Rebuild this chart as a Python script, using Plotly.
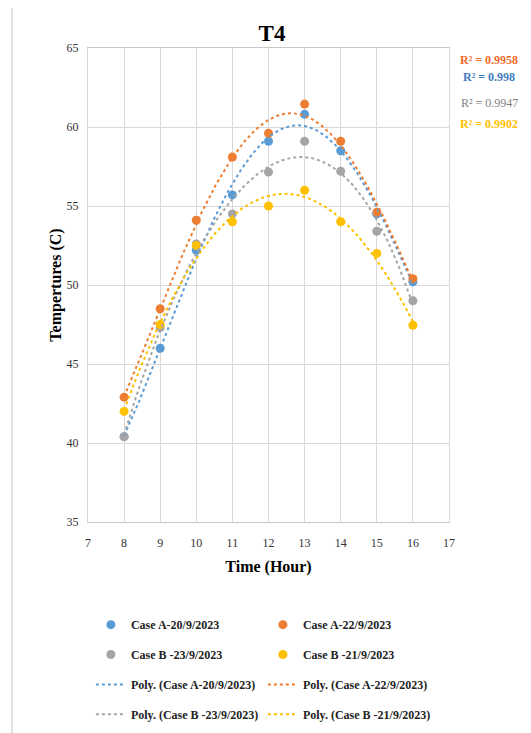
import numpy as np
import plotly.graph_objects as go

hours = [8, 9, 10, 11, 12, 13, 14, 15, 16]
case_a_20 = [40.4, 46.0, 52.2, 55.7, 59.1, 60.8, 58.5, 54.5, 50.2]
case_a_22 = [42.9, 48.5, 54.1, 58.1, 59.6, 61.45, 59.1, 54.6, 50.4]
case_b_23 = [40.4, 47.3, 52.6, 54.5, 57.15, 59.1, 57.2, 53.4, 49.0]
case_b_21 = [42.0, 47.5, 52.5, 54.0, 55.0, 56.0, 54.0, 52.0, 47.45]

series_names = ["Case A-20/9/2023", "Case A-22/9/2023", "Case B -23/9/2023", "Case B -21/9/2023"]
series_values = [case_a_20, case_a_22, case_b_23, case_b_21]
series_colors = ["#5B9BD5", "#ED7D31", "#A5A5A5", "#FFC000"]
r2_values = [0.998, 0.9958, 0.9947, 0.9902]
r2_labels = ["R² = 0.998", "R² = 0.9958", "R² = 0.9947", "R² = 0.9902"]
r2_colors = ["#3F7CC2", "#EE6A2B", "#7F7F7F", "#FFC000"]
r2_weights = ["bold", "bold", "normal", "bold"]
r2_ypos = [0.939, 0.975, 0.884, 0.840]

x_ticks = list(range(7, 18))
y_ticks = [35, 40, 45, 50, 55, 60, 65]

FONT = "Liberation Serif"
fig = go.Figure()

legend_rows = ["legend", "legend", "legend2", "legend2"]
for name, vals, col, lg in zip(series_names, series_values, series_colors, legend_rows):
    fig.add_trace(go.Scatter(x=hours, y=vals, mode="markers", name=name,
                             marker=dict(color=col, size=9), legend=lg))


def r_squared(x, y, coef):
    y = np.asarray(y, float)
    res = y - np.polyval(coef, x)
    return 1 - np.sum(res ** 2) / np.sum((y - y.mean()) ** 2)


# polynomial trendlines: pick the order whose fit R² is closest to the reported one
xs = np.linspace(hours[0], hours[-1], 200)
poly_rows = ["legend3", "legend3", "legend4", "legend4"]
for name, vals, col, lg, r2 in zip(series_names, series_values, series_colors, poly_rows, r2_values):
    best = None
    for order in (2, 3, 4):
        coef = np.polyfit(hours, vals, order)
        d = abs(r_squared(hours, vals, coef) - r2)
        if best is None or d < best[0]:
            best = (d, coef)
    fig.add_trace(go.Scatter(x=xs, y=np.polyval(best[1], xs), mode="lines",
                             name=f"Poly. ({name})", legend=lg,
                             line=dict(color=col, width=2, dash="dot")))

for txt, col, w, yp in zip(r2_labels, r2_colors, r2_weights, r2_ypos):
    fig.add_annotation(text=txt, xref="paper", yref="paper", x=1.111, y=yp,
                       xanchor="center", yanchor="middle", showarrow=False,
                       font=dict(family=FONT, size=12, color=col, weight=w))

legend_common = dict(orientation="h", xanchor="left", x=0.008, yanchor="middle",
                     entrywidth=127, bgcolor="rgba(0,0,0,0)",
                     font=dict(family=FONT, size=12, color="#222222", weight="bold"))

fig.update_layout(
    width=531, height=733,
    margin=dict(l=80, r=90, t=40, b=217),
    paper_bgcolor="white", plot_bgcolor="white",
    title=dict(text="T4", x=264 / 531, xref="container", xanchor="center",
               y=1 - 25 / 733, yref="container", yanchor="middle",
               font=dict(family=FONT, size=23, color="black", weight="bold")),
    font=dict(family=FONT, color="#333333"),
    legend=dict(**legend_common, y=-0.2166),
    legend2=dict(**legend_common, y=-0.2796),
    legend3=dict(**legend_common, y=-0.3426),
    legend4=dict(**legend_common, y=-0.4056),
    xaxis=dict(range=[7, 17], tickvals=x_ticks, showgrid=True, gridcolor="#D9D9D9",
               gridwidth=1, showline=True, linecolor="#C8C8C8", mirror=True,
               zeroline=False, ticks="", ticklabelstandoff=10,
               tickfont=dict(family=FONT, size=12, color="#333333"),
               title=dict(text="Time (Hour)", standoff=11,
                          font=dict(family=FONT, size=16, color="black", weight="bold"))),
    yaxis=dict(range=[35, 65], tickvals=y_ticks, showgrid=True, gridcolor="#D9D9D9",
               gridwidth=1, showline=True, linecolor="#D9D9D9", mirror=True,
               zeroline=False, ticks="", ticklabelstandoff=6,
               tickfont=dict(family=FONT, size=12, color="#333333"),
               title=dict(text="Tempertures (C)", standoff=0,
                          font=dict(family=FONT, size=16, color="black", weight="bold"))),
    shapes=[dict(type="rect", xref="paper", yref="paper", x0=-0.2105, x1=1.24,
                 y0=-0.46, y1=1.086, line=dict(color="#D9D9D9", width=1.5),
                 fillcolor="rgba(0,0,0,0)", layer="below")],
)

fig.write_html("out.html")
